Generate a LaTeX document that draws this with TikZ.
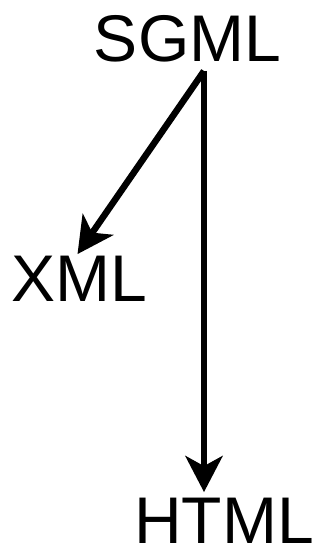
\documentclass[tikz,border=0pt]{standalone}
\usepackage{fontspec}
\setmainfont{Liberation Sans}
\usetikzlibrary{arrows.meta, positioning, calc}
\tikzset{
  >=Stealth,
  lang/.style={inner sep=0pt, font=\fontsize{66}{70}\selectfont},
  arr/.style={-{Stealth[length=36pt, width=37pt, inset=10pt]}, line width=6.5pt, draw=black}
}

\begin{document}
\begin{tikzpicture}[x=1pt, y=-1pt]
  \useasboundingbox (0,0) rectangle (320,553);
  % language names
  \node[lang] (sgml) at (187.5,39) {SGML};
  \node[lang] (xml)  at (79.5,279) {XML};
  \node[lang] (html) at (224,521) {HTML};
  % common start below SGML
  \coordinate (fork) at (204,71);
  \coordinate (xmltip) at ([xshift=-2pt, yshift=2pt]xml.north);
  \coordinate (htmltip) at ([yshift=6pt]fork |- html.north);
  \draw[arr] (fork) -- (xmltip);
  \draw[arr] (fork) -- (htmltip);
\end{tikzpicture}
\end{document}
